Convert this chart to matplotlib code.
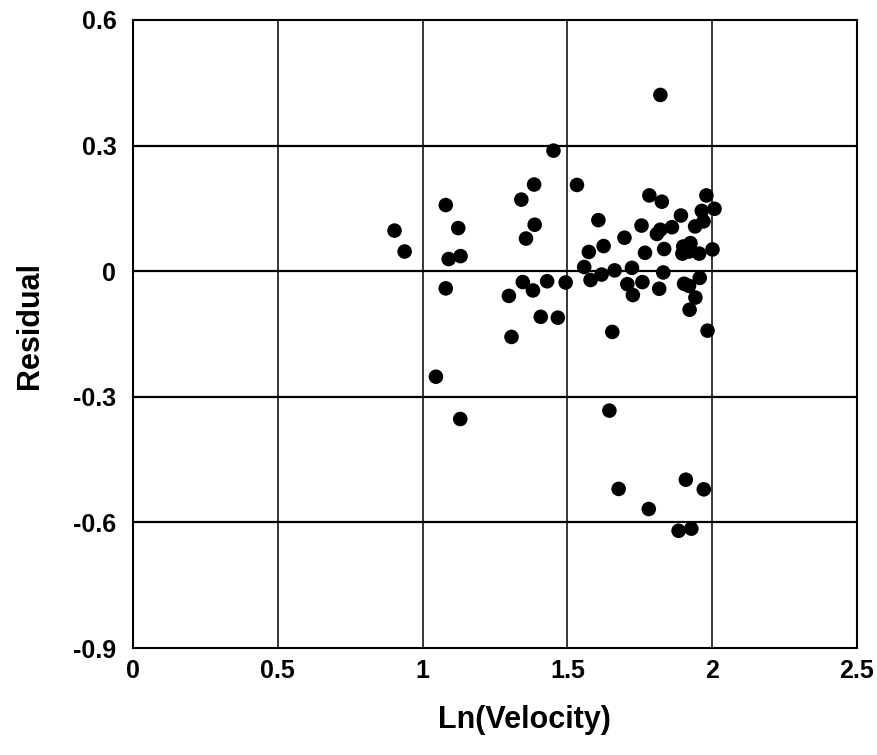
import matplotlib
matplotlib.use("Agg")
import matplotlib.pyplot as plt

# Residuals of the regression model plotted against log velocity
ln_velocity = [
    1.452, 1.385, 1.533, 1.341, 1.080, 0.903, 1.123, 1.387, 1.607, 1.357,
    0.938, 1.090, 1.131, 1.574, 1.625, 1.697, 1.821, 1.783, 1.826, 1.980,
    1.892, 1.964, 2.008, 1.756, 1.821, 1.809, 1.861, 1.941, 1.970, 1.768,
    1.834, 1.900, 1.925, 1.920, 1.897, 1.955, 2.001, 1.558, 1.663, 1.723,
    1.618, 1.580, 1.494, 1.831, 1.707, 1.759, 1.726, 1.817, 1.903, 1.920,
    1.957, 1.942, 1.922, 1.655, 1.984, 1.080, 1.298, 1.346, 1.381, 1.430,
    1.408, 1.467, 1.307, 1.046, 1.130, 1.645, 1.677, 1.781, 1.909, 1.971,
    1.884, 1.928,
]
residual = [
    0.288, 0.207, 0.206, 0.171, 0.158, 0.097, 0.103, 0.111, 0.122, 0.078,
    0.047, 0.029, 0.036, 0.046, 0.060, 0.080, 0.421, 0.181, 0.166, 0.181,
    0.133, 0.144, 0.149, 0.109, 0.099, 0.089, 0.105, 0.107, 0.119, 0.044,
    0.053, 0.059, 0.067, 0.047, 0.042, 0.042, 0.052, 0.010, 0.002, 0.008,
    -0.008, -0.021, -0.027, -0.003, -0.031, -0.026, -0.057, -0.042, -0.030, -0.035,
    -0.016, -0.063, -0.092, -0.145, -0.142, -0.041, -0.059, -0.026, -0.046, -0.024,
    -0.109, -0.111, -0.157, -0.252, -0.353, -0.333, -0.520, -0.568, -0.498, -0.521,
    -0.620, -0.615,
]

x_ticks = [0, 0.5, 1, 1.5, 2, 2.5]
x_tick_labels = ["0", "0.5", "1", "1.5", "2", "2.5"]
y_ticks = [-0.9, -0.6, -0.3, 0, 0.3, 0.6]
y_tick_labels = ["-0.9", "-0.6", "-0.3", "0", "0.3", "0.6"]

plt.rcParams["font.family"] = ["Liberation Sans", "DejaVu Sans"]
plt.rcParams["font.weight"] = "bold"

fig = plt.figure(figsize=(8.77, 7.55), dpi=100)
ax = fig.add_axes([133 / 877, 1 - 648 / 755, (857 - 133) / 877, (648 - 20) / 755])

ax.set_xlim(0, 2.5)
ax.set_ylim(-0.9, 0.6)

# grid lines: horizontal ones are drawn heavier than vertical ones
for yv in y_ticks[1:-1]:
    ax.axhline(yv, color="black", lw=1.6, zorder=1)
for xv in x_ticks[1:-1]:
    ax.axvline(xv, color="black", lw=1.1, zorder=1)

ax.scatter(ln_velocity, residual, s=110, color="black", edgecolors="none", zorder=3)

ax.set_xticks(x_ticks)
ax.set_xticklabels(x_tick_labels, fontsize=18, fontweight="bold")
ax.set_yticks(y_ticks)
ax.set_yticklabels(y_tick_labels, fontsize=18, fontweight="bold")
ax.tick_params(axis="both", length=0)
ax.tick_params(axis="x", pad=8)
ax.tick_params(axis="y", pad=12)

for sp in ax.spines.values():
    sp.set_linewidth(1.5)
    sp.set_color("black")

ax.set_xlabel("Ln(Velocity)", fontsize=22, fontweight="bold")
ax.set_ylabel("Residual", fontsize=22, fontweight="bold")
ax.xaxis.set_label_coords(0.541, -0.09)
ax.yaxis.set_label_coords(-0.122, 0.514)

fig.savefig("out.png", dpi=100)
